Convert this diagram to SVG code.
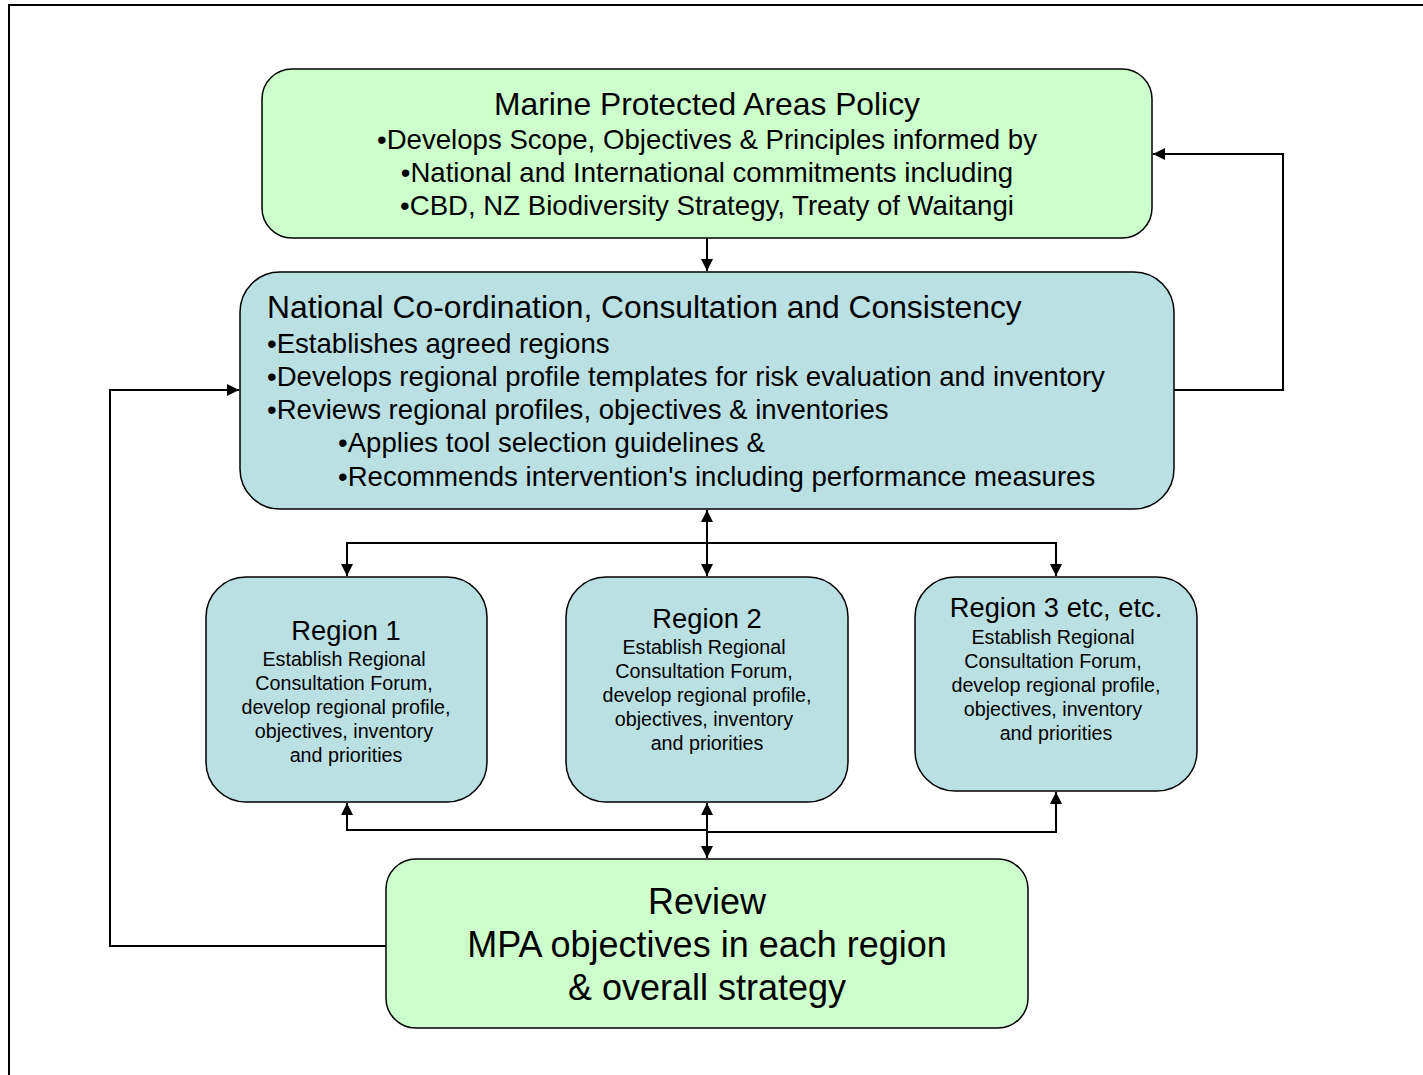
<svg xmlns="http://www.w3.org/2000/svg" width="1423" height="1075" viewBox="0 0 1423 1075">
<defs>
<marker id="ah" viewBox="0 0 10 10" refX="10" refY="5" markerWidth="12" markerHeight="12" markerUnits="userSpaceOnUse" orient="auto-start-reverse">
<path d="M0,0 L10,5 L0,10 z" fill="#000"/>
</marker>
<style>
text{font-family:"Liberation Sans",Arial,sans-serif;fill:#000}
.g{fill:#CCFFCC;stroke:#000;stroke-width:1.5}
.b{fill:#BBE0E3;stroke:#000;stroke-width:1.5}
.c{fill:none;stroke:#000;stroke-width:2}
.t1{font-size:31.8px}
.t2{font-size:27.6px}
.r1{font-size:27.3px}
.r2{font-size:19.7px}
.rv{font-size:36px}
.m{text-anchor:middle}
</style>
</defs>
<rect width="1423" height="1075" fill="#fff"/>
<path d="M9,1075 V5 H1423" fill="none" stroke="#000" stroke-width="2"/>
<g id="connectors">
<path class="c" d="M707,238 V271" marker-end="url(#ah)"/>
<path class="c" d="M1174,390 H1283 V154 H1153" marker-end="url(#ah)"/>
<path class="c" d="M386,946 H110 V390 H239" marker-end="url(#ah)"/>
<path class="c" d="M707,510 V576" marker-start="url(#ah)" marker-end="url(#ah)"/>
<path class="c" d="M347,576 V543 H1056 V576" marker-start="url(#ah)" marker-end="url(#ah)"/>
<path class="c" d="M707,803 V858" marker-start="url(#ah)" marker-end="url(#ah)"/>
<path class="c" d="M347,803 V830 H707" marker-start="url(#ah)"/>
<path class="c" d="M707,832 H1056 V792" marker-end="url(#ah)"/>
</g>
<g id="policy">
<rect class="g" x="262" y="69" width="890" height="169" rx="30" ry="30"/>
<text class="t1 m" x="707" y="115">Marine Protected Areas Policy</text>
<text class="t2 m" x="707" y="149">•Develops Scope, Objectives &amp; Principles informed by</text>
<text class="t2 m" x="707" y="182">•National and International commitments including</text>
<text class="t2 m" x="707" y="215">•CBD, NZ Biodiversity Strategy, Treaty of Waitangi</text>
</g>
<g id="national">
<rect class="b" x="240" y="272" width="934" height="237" rx="40" ry="40"/>
<text class="t1" x="267" y="318">National Co-ordination, Consultation and Consistency</text>
<text class="t2" x="267" y="353">•Establishes agreed regions</text>
<text class="t2" x="267" y="386">•Develops regional profile templates for risk evaluation and inventory</text>
<text class="t2" x="267" y="419">•Reviews regional profiles, objectives &amp; inventories</text>
<text class="t2" x="338" y="452">•Applies tool selection guidelines &amp;</text>
<text class="t2" x="338" y="486">•Recommends intervention's including performance measures</text>
</g>
<g id="region1">
<rect class="b" x="206" y="577" width="281" height="225" rx="40" ry="40"/>
<text class="r1 m" x="346" y="640">Region 1</text>
<text class="r2 m" x="344" y="666">Establish Regional</text>
<text class="r2 m" x="344" y="690">Consultation Forum,</text>
<text class="r2 m" x="346" y="714">develop regional profile,</text>
<text class="r2 m" x="344" y="738">objectives, inventory</text>
<text class="r2 m" x="346" y="762">and priorities</text>
</g>
<g id="region2">
<rect class="b" x="566" y="577" width="282" height="225" rx="40" ry="40"/>
<text class="r1 m" x="707" y="628">Region 2</text>
<text class="r2 m" x="704" y="654">Establish Regional</text>
<text class="r2 m" x="704" y="678">Consultation Forum,</text>
<text class="r2 m" x="707" y="702">develop regional profile,</text>
<text class="r2 m" x="704" y="726">objectives, inventory</text>
<text class="r2 m" x="707" y="750">and priorities</text>
</g>
<g id="region3">
<rect class="b" x="915" y="577" width="282" height="214" rx="40" ry="40"/>
<text class="r1 m" x="1056" y="617">Region 3 etc, etc.</text>
<text class="r2 m" x="1053" y="644">Establish Regional</text>
<text class="r2 m" x="1053" y="668">Consultation Forum,</text>
<text class="r2 m" x="1056" y="692">develop regional profile,</text>
<text class="r2 m" x="1053" y="716">objectives, inventory</text>
<text class="r2 m" x="1056" y="740">and priorities</text>
</g>
<g id="review">
<rect class="g" x="386" y="859" width="642" height="169" rx="30" ry="30"/>
<text class="rv m" x="707" y="914">Review</text>
<text class="rv m" x="707" y="957">MPA objectives in each region</text>
<text class="rv m" x="707" y="1000">&amp; overall strategy</text>
</g>
</svg>
